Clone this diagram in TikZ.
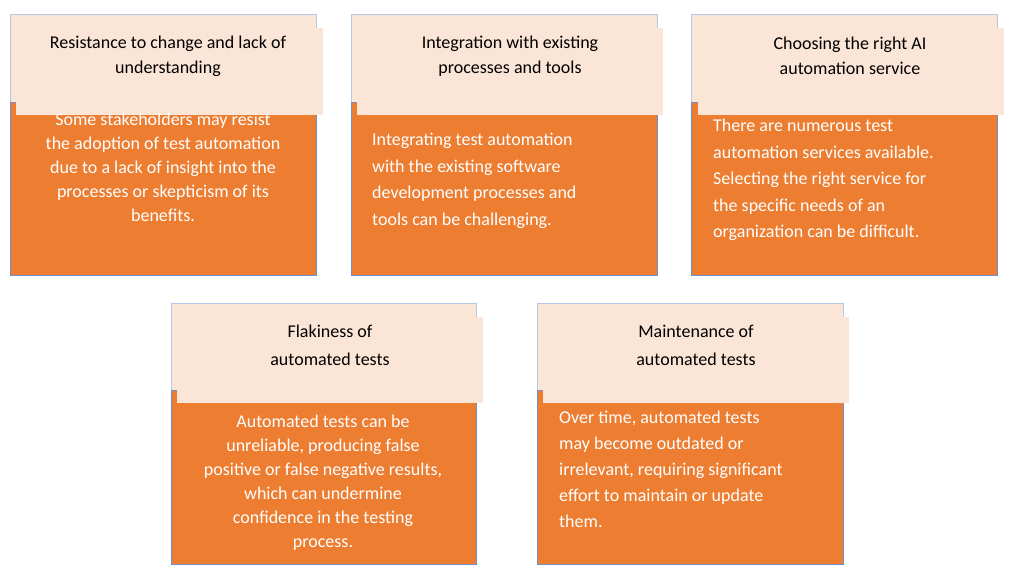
\documentclass[tikz,border=0pt]{standalone}
\usepackage{fontspec}
\setmainfont{Carlito}
\definecolor{org}{HTML}{ED7D31}
\definecolor{pch}{HTML}{FBE5D6}
\definecolor{bdr}{HTML}{B4C7E7}
\definecolor{bdo}{HTML}{6F8FCF}
\begin{document}
\begin{tikzpicture}[x=1pt,y=-1pt,
  hd/.style={font=\fontsize{18}{25}\selectfont,align=center,text=black},
  bd/.style={font=\fontsize{18}{24}\selectfont,text=white,inner sep=0pt}]
\useasboundingbox[fill=white] (0,0) rectangle (1031,577);
% card(x1,y1,x2,y2,ymid, hx1,hy1,hx2,hy2)
\newcommand\card[9]{%
  \fill[pch,draw=bdr] (#1,#2) rectangle (#3,#5);
  \fill[org,draw=bdo] (#1,#5) rectangle (#3,#4);
  \fill[pch] (#6,#7) rectangle (#8,#9);}
\card{10}{14}{316}{275}{102}{16}{28}{323}{115}
\card{351}{14}{657}{275}{102}{357}{28}{663}{115}
\card{691}{14}{997}{275}{102}{698}{28}{1004}{115}
\card{171}{303}{476}{564}{390}{177}{317}{483}{403}
\card{537}{303}{843}{564}{390}{543}{317}{849}{403}

\node[hd] (h1) at (168,56) {Resistance to change and lack of\\understanding};
\node[hd] (h2) at (510,56) {Integration with existing\\processes and tools};
\node[hd] (h3) at (850,56) {Choosing the right AI\\automation service};
\node[hd,font=\fontsize{18}{28}\selectfont] (h4) at (330,345) {Flakiness of\\automated tests};
\node[hd,font=\fontsize{18}{28}\selectfont] (h5) at (696,345) {Maintenance of\\automated tests};

\node[bd,align=center] (b1) at (163,167) {Some stakeholders may resist\\the adoption of test automation\\due to a lack of insight into the\\processes or skepticism of its\\benefits.};
\node[bd,align=left,anchor=west,font=\fontsize{18}{26.5}\selectfont] (b2) at (372,181) {Integrating test automation\\with the existing software\\development processes and\\tools can be challenging.};
\node[bd,align=left,anchor=west,font=\fontsize{18}{26.5}\selectfont] (b3) at (713,180) {There are numerous test\\automation services available.\\Selecting the right service for\\the specific needs of an\\organization can be difficult.};
\node[bd,align=center] (b4) at (323,483) {Automated tests can be\\unreliable, producing false\\positive or false negative results,\\which can undermine\\confidence in the testing\\process.};
\node[bd,align=left,anchor=west,font=\fontsize{18}{26}\selectfont] (b5) at (559,469) {Over time, automated tests\\may become outdated or\\irrelevant, requiring significant\\effort to maintain or update\\them.};
\end{tikzpicture}
\end{document}
